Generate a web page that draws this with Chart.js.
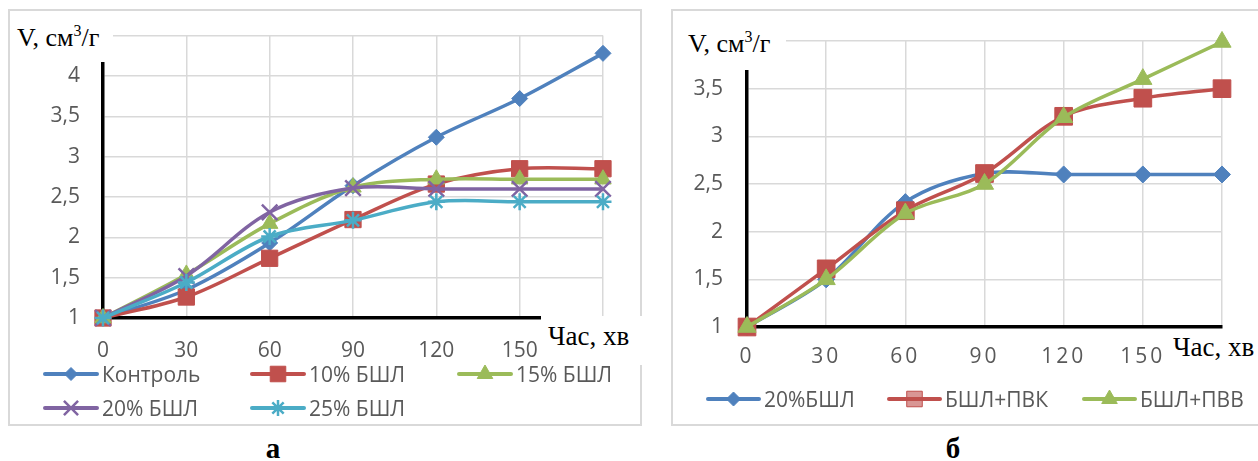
<!DOCTYPE html>
<html>
<head>
<meta charset="utf-8">
<script src="https://cdn.jsdelivr.net/npm/chart.js@4/dist/chart.umd.min.js"></script>
<style>
  body { margin: 0; background: #fff; width: 1258px; height: 461px; overflow: hidden; position: relative; font-family: "Open Sans", sans-serif; }
  .frame { position: absolute; border: 2px solid #d9d9d9; box-sizing: border-box; }
  canvas.chart { position: absolute; top: 0; }
  .ttl { position: absolute; background: #fff; box-sizing: border-box; font-family: "Liberation Serif", "Times New Roman", serif; font-size: 26px; line-height: 26px; color: #000; white-space: nowrap; }
  .ttl.x { font-size: 27px; line-height: 27px; }
  .ttl sup { font-size: 16px; line-height: 0; vertical-align: baseline; position: relative; top: -10px; }
  .leg { position: absolute; display: flex; align-items: center; height: 34px; font-size: 21px; color: #595959; white-space: nowrap; }
  .leg canvas { margin-right: 3px; }
  .cap { position: absolute; width: 40px; text-align: center; font-family: "Liberation Serif", serif; font-weight: bold; font-size: 29px; line-height: 29px; }
</style>
</head>
<body>
<div class="frame" style="left:8px;top:9px;width:634px;height:417px"></div>
<div class="frame" style="left:671px;top:9px;width:600px;height:417px"></div>
<canvas id="chartA" class="chart" width="641" height="426" style="left:0"></canvas>
<canvas id="chartB" class="chart" width="598" height="426" style="left:660px"></canvas>

<div class="ttl" style="left:10px;top:20px;width:103px;height:42px;padding:5px 0 0 7px">V, см<sup>3</sup>/г</div>
<div class="ttl x" style="left:541px;top:316px;width:104px;height:49px;padding:7px 0 0 7px">Час, хв</div>
<div class="ttl" style="left:673px;top:25px;width:113px;height:45px;padding:6px 0 0 15px">V, см<sup>3</sup>/г</div>
<div class="ttl x" style="left:1166px;top:330px;width:92px;height:40px;padding:4px 0 0 7px">Час, хв</div>

<div class="cap" style="left:253px;top:434px">а</div>
<div class="cap" style="left:933px;top:434px">б</div>

<script>
// x values (minutes)
const timeMin = [0, 30, 60, 90, 120, 150, 180];

// chart а
const namesA = ['Контроль', '10% БШЛ', '15% БШЛ', '20% БШЛ', '25% БШЛ'];
const control = [1, 1.35, 1.93, 2.64, 3.24, 3.72, 4.28];
const bshl10 = [1, 1.26, 1.74, 2.22, 2.66, 2.85, 2.85];
const bshl15 = [1, 1.54, 2.17, 2.62, 2.72, 2.72, 2.72];
const bshl20 = [1, 1.52, 2.31, 2.61, 2.6, 2.6, 2.6];
const bshl25 = [1, 1.44, 2.01, 2.21, 2.44, 2.44, 2.44];

// chart б
const namesB = ['20%БШЛ', 'БШЛ+ПВК', 'БШЛ+ПВВ'];
const bshl20b = [1, 1.5, 2.31, 2.61, 2.6, 2.6, 2.6];
const bshlPvk = [1, 1.61, 2.22, 2.61, 3.21, 3.4, 3.5];
const bshlPvv = [1, 1.5, 2.19, 2.5, 3.2, 3.6, 3.99];

const BLUE = '#4f81bd', RED = '#c0504d', GREEN = '#9bbb59', PURPLE = '#8064a2', CYAN = '#4bacc6';
const TICK_FONT = { family: 'Open Sans', size: 21 };

const stylesA = [
  { color: BLUE, point: 'rectRot', r: 8, lr: 6.5 },
  { color: RED, point: 'rect', r: 11.5, lr: 11 },
  { color: GREEN, point: 'triangle', r: 9.5, lr: 9 },
  { color: PURPLE, point: 'crossRot', r: 11, lr: 10 },
  { color: CYAN, point: 'star', r: 8.5, lr: 8 }
];
const stylesB = [
  { color: BLUE, point: 'rectRot', r: 8.5, lr: 7 },
  { color: RED, point: 'rect', r: 12.5, lr: 11, legendFill: 'rgba(192,80,77,0.6)' },
  { color: GREEN, point: 'triangle', r: 10.5, lr: 9 }
];

function toPoints(values) {
  return values.map((v, i) => ({ x: timeMin[i], y: v }));
}

function buildDatasets(names, series, styles) {
  return names.map((name, i) => ({
    label: name,
    data: toPoints(series[i]),
    borderColor: styles[i].color,
    backgroundColor: styles[i].color,
    borderWidth: 3.5,
    tension: 0.33,
    pointStyle: styles[i].point,
    pointRadius: styles[i].r,
    pointBorderWidth: (styles[i].point === 'crossRot' || styles[i].point === 'star') ? 2.5 : 1,
    pointBackgroundColor: styles[i].color,
    pointBorderColor: styles[i].color,
    order: names.length - i,
    clip: false
  }));
}

// widens the digit spacing of x tick labels (chart б only)
const spacedTicks = {
  id: 'spacedTicks',
  afterLayout(chart, args, opts) {
    const s = chart.scales.x;
    if (s._spaced) return;
    const orig = s.drawLabels;
    s.drawLabels = function (area) {
      this.ctx.save();
      this.ctx.letterSpacing = opts.spacing;
      orig.call(this, area);
      this.ctx.restore();
    };
    s._spaced = true;
  }
};

function makeChart(id, datasets, cfg) {
  return new Chart(document.getElementById(id), {
    type: 'line',
    data: { datasets },
    plugins: cfg.spacing ? [spacedTicks] : [],
    options: {
      responsive: false,
      animation: false,
      layout: { padding: cfg.padding },
      plugins: { legend: { display: false }, tooltip: { enabled: false }, spacedTicks: { spacing: cfg.spacing } },
      scales: {
        x: {
          type: 'linear', min: 0, max: 180,
          ticks: { stepSize: 30, color: '#595959', font: TICK_FONT, padding: cfg.xPad },
          grid: { color: '#d9d9d9', lineWidth: 1.5, drawTicks: false },
          border: { color: '#000', width: 3.5 },
          afterFit: s => { s.height = cfg.xHeight; }
        },
        y: {
          type: 'linear', min: 1, max: cfg.yMax,
          ticks: { stepSize: 0.5, color: '#595959', font: TICK_FONT, padding: cfg.yPad,
                   callback: v => String(v).replace('.', ',') },
          grid: { color: '#d9d9d9', lineWidth: 1.5, drawTicks: false },
          border: { color: '#000', width: 3.5 },
          afterFit: s => { s.width = cfg.yWidth; }
        }
      }
    }
  });
}

makeChart('chartA', buildDatasets(namesA, [control, bshl10, bshl15, bshl20, bshl25], stylesA), {
  padding: { left: 0, top: 29, right: 36, bottom: 63 },
  yMax: 4.5, yWidth: 103, yPad: 23, xHeight: 45, xPad: 20
});
makeChart('chartB', buildDatasets(namesB, [bshl20b, bshlPvk, bshlPvv], stylesB), {
  padding: { left: 0, top: 41, right: 36, bottom: 57 },
  yMax: 4, yWidth: 87, yPad: 24, xHeight: 42, xPad: 17, spacing: '3px'
});

// legends (line + marker swatch, then text)
function addLegend(names, styles, positions, swatchW) {
  names.forEach((name, i) => {
    const item = document.createElement('div');
    item.className = 'leg';
    item.style.left = positions[i][0] + 'px';
    item.style.top = (positions[i][1] - 17) + 'px';
    const c = document.createElement('canvas');
    c.width = swatchW; c.height = 34;
    const ctx = c.getContext('2d');
    ctx.strokeStyle = styles[i].color;
    ctx.lineWidth = 4;
    ctx.lineCap = 'round';
    ctx.beginPath();
    ctx.moveTo(2, 17); ctx.lineTo(swatchW - 2, 17);
    ctx.stroke();
    ctx.fillStyle = styles[i].legendFill || styles[i].color;
    const cross = styles[i].point === 'crossRot' || styles[i].point === 'star';
    ctx.lineWidth = cross ? 2.5 : 1;
    ctx.lineCap = 'butt';
    Chart.helpers.drawPoint(ctx, { pointStyle: styles[i].point, radius: styles[i].lr, borderWidth: ctx.lineWidth, rotation: 0 }, swatchW / 2, 17);
    item.appendChild(c);
    const t = document.createElement('span');
    t.textContent = name;
    item.appendChild(t);
    document.body.appendChild(item);
  });
}

addLegend(namesA, stylesA, [[43, 374], [250, 374], [457, 374], [43, 408], [250, 408]], 56);
addLegend(namesB, stylesB, [[706, 399], [887, 399], [1082, 399]], 55);
</script>
</body>
</html>
